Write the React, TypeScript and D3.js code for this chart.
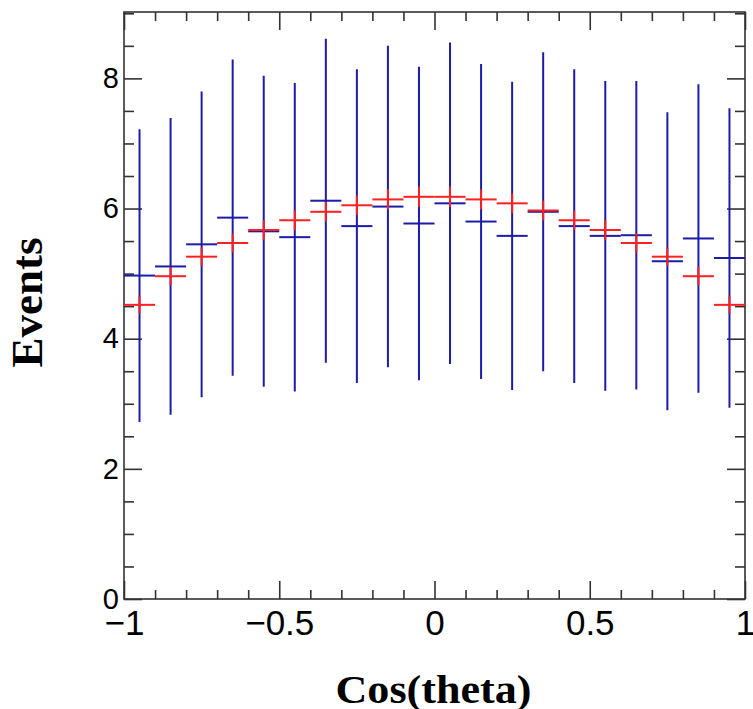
import { useEffect, useRef } from "react";
import * as d3 from "d3";

// bin centres of the Cos(theta) histogram (20 bins, width 0.1)
const binCenters = [
  -0.95, -0.85, -0.75, -0.65, -0.55, -0.45, -0.35, -0.25, -0.15, -0.05,
  0.05, 0.15, 0.25, 0.35, 0.45, 0.55, 0.65, 0.75, 0.85, 0.95,
];
const binWidth = 0.1;

// data (blue) with its errors
const dataValues = [
  4.97, 5.11, 5.45, 5.86, 5.65, 5.56, 6.12, 5.73, 6.03, 5.77,
  6.08, 5.8, 5.58, 5.95, 5.73, 5.58, 5.59, 5.19, 5.54, 5.24,
];
const dataErrors = [
  2.25, 2.28, 2.35, 2.43, 2.39, 2.37, 2.49, 2.41, 2.47, 2.41,
  2.47, 2.42, 2.37, 2.45, 2.41, 2.38, 2.37, 2.29, 2.37, 2.3,
];

// model (red) with its errors
const modelValues = [
  4.52, 4.96, 5.26, 5.47, 5.67, 5.82, 5.95, 6.05, 6.14, 6.18,
  6.18, 6.14, 6.08, 5.97, 5.82, 5.67, 5.47, 5.26, 4.96, 4.52,
];
const modelErrors = [
  0.13, 0.14, 0.14, 0.145, 0.15, 0.15, 0.15, 0.15, 0.155, 0.155,
  0.155, 0.155, 0.15, 0.15, 0.15, 0.15, 0.145, 0.14, 0.14, 0.13,
];

const xTickLabels = [-1, -0.5, 0, 0.5, 1];
const yTickLabels = [0, 2, 4, 6, 8];
const xDomain = [-1, 1];
const yDomain = [0, 9.02];

const width = 753;
const height = 709;
const margin = { top: 12, right: 8, bottom: 110, left: 124 };

function HistChart() {
  const ref = useRef<SVGSVGElement>(null);

  useEffect(() => {
    const svg = d3.select(ref.current);
    svg.selectAll("*").remove();

    const x = d3
      .scaleLinear()
      .domain(xDomain)
      .range([margin.left, width - margin.right]);
    const y = d3
      .scaleLinear()
      .domain(yDomain)
      .range([height - margin.bottom, margin.top]);

    const x0 = x.range()[0];
    const x1 = x.range()[1];
    const y0 = y.range()[0];
    const y1 = y.range()[1];

    const xMinor = d3.range(-1, 1.0001, 0.1).filter((v) => Math.abs(v * 2 - Math.round(v * 2)) > 1e-6);
    const yMinor = d3.range(0, 9.0001, 0.5).filter((v) => Math.abs(v / 2 - Math.round(v / 2)) > 1e-6);

    const axisColor = "#333";
    const styleAxis = (g) => {
      g.select(".domain").remove();
      g.selectAll(".tick line").attr("stroke", axisColor).attr("stroke-width", 1.6);
    };

    // bottom axis (major + minor)
    svg
      .append("g")
      .attr("transform", `translate(0,${y0})`)
      .call(d3.axisBottom(x).tickValues(xTickLabels).tickSize(-18).tickPadding(11).tickFormat((d) => (d < 0 ? "\u2212" + Math.abs(d) : String(d))))
      .call(styleAxis)
      .call((g) =>
        g.selectAll("text").attr("fill", "#000").attr("font-size", 35).attr("font-family", "'Liberation Sans', Arial, sans-serif")
      );
    svg
      .append("g")
      .attr("transform", `translate(0,${y0})`)
      .call(d3.axisBottom(x).tickValues(xMinor).tickSize(-9).tickFormat(() => ""))
      .call(styleAxis);

    // top axis ticks
    svg
      .append("g")
      .attr("transform", `translate(0,${y1})`)
      .call(d3.axisTop(x).tickValues(xTickLabels).tickSize(-18).tickFormat(() => ""))
      .call(styleAxis);
    svg
      .append("g")
      .attr("transform", `translate(0,${y1})`)
      .call(d3.axisTop(x).tickValues(xMinor).tickSize(-9).tickFormat(() => ""))
      .call(styleAxis);

    // left axis
    svg
      .append("g")
      .attr("transform", `translate(${x0},0)`)
      .call(d3.axisLeft(y).tickValues(yTickLabels).tickSize(-18).tickPadding(5))
      .call(styleAxis)
      .call((g) =>
        g.selectAll("text").attr("fill", "#000").attr("font-size", 29).attr("font-family", "'Liberation Sans', Arial, sans-serif")
      );
    svg
      .append("g")
      .attr("transform", `translate(${x0},0)`)
      .call(d3.axisLeft(y).tickValues(yMinor).tickSize(-10).tickFormat(() => ""))
      .call(styleAxis);

    // right axis ticks
    svg
      .append("g")
      .attr("transform", `translate(${x1},0)`)
      .call(d3.axisRight(y).tickValues(yTickLabels).tickSize(-18).tickFormat(() => ""))
      .call(styleAxis);
    svg
      .append("g")
      .attr("transform", `translate(${x1},0)`)
      .call(d3.axisRight(y).tickValues(yMinor).tickSize(-10).tickFormat(() => ""))
      .call(styleAxis);

    // frame
    svg
      .append("rect")
      .attr("x", x0)
      .attr("y", y1)
      .attr("width", x1 - x0)
      .attr("height", y0 - y1)
      .attr("fill", "none")
      .attr("stroke", axisColor)
      .attr("stroke-width", 1.6);

    // error-bar crosses
    const drawSeries = (values, errors, color) => {
      const g = svg.append("g").attr("stroke", color).attr("stroke-width", 2);
      binCenters.forEach((c, i) => {
        const v = values[i];
        const e = errors[i];
        g.append("line")
          .attr("x1", x(c - binWidth / 2))
          .attr("x2", x(c + binWidth / 2))
          .attr("y1", y(v))
          .attr("y2", y(v));
        g.append("line")
          .attr("x1", x(c))
          .attr("x2", x(c))
          .attr("y1", y(v - e))
          .attr("y2", y(v + e));
      });
    };
    drawSeries(dataValues, dataErrors, "#1c1ca8");
    drawSeries(modelValues, modelErrors, "#ff2020");

    // axis titles
    svg
      .append("text")
      .attr("x", (x0 + x1) / 2 - 1)
      .attr("y", 703)
      .attr("text-anchor", "middle")
      .attr("font-family", "'Liberation Serif', 'Times New Roman', serif")
      .attr("font-weight", "bold")
      .attr("font-size", 40)
      .attr("textLength", 196)
      .attr("lengthAdjust", "spacingAndGlyphs")
      .text("Cos(theta)");

    svg
      .append("text")
      .attr("transform", `translate(42,${(y0 + y1) / 2 - 3}) rotate(-90)`)
      .attr("text-anchor", "middle")
      .attr("font-family", "'Liberation Serif', 'Times New Roman', serif")
      .attr("font-weight", "bold")
      .attr("font-size", 45)
      .text("Events");
  }, []);

  return <svg ref={ref} width={width} height={height} style={{ display: "block" }} />;
}

export default function App() {
  return (
    <div style={{ position: "absolute", left: 0, top: 0, background: "#fff" }}>
      <HistChart />
    </div>
  );
}
